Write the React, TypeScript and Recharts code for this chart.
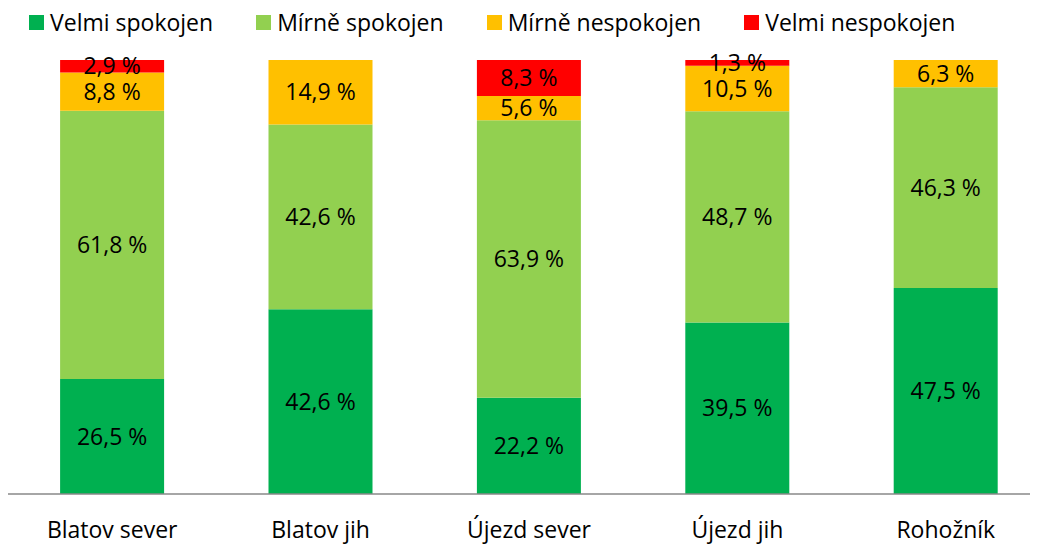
import { BarChart, Bar, XAxis, YAxis, Legend, LabelList } from "recharts"

const categories = ["Blatov sever", "Blatov jih", "Újezd sever", "Újezd jih", "Rohožník"]
const velmiSpokojen = [26.5, 42.6, 22.2, 39.5, 47.5]
const mirneSpokojen = [61.8, 42.6, 63.9, 48.7, 46.3]
const mirneNespokojen = [8.8, 14.9, 5.6, 10.5, 6.3]
const velmiNespokojen = [2.9, 0, 8.3, 1.3, 0]

const series = [
  { key: "vs", name: "Velmi spokojen", color: "#00B050", values: velmiSpokojen },
  { key: "ms", name: "Mírně spokojen", color: "#92D050", values: mirneSpokojen },
  { key: "mn", name: "Mírně nespokojen", color: "#FFC000", values: mirneNespokojen },
  { key: "vn", name: "Velmi nespokojen", color: "#FF0000", values: velmiNespokojen },
]

const data = categories.map((name, i) => {
  const row = { name }
  series.forEach(s => {
    row[s.key] = s.values[i]
  })
  return row
})

const FONT = "'Open Sans', sans-serif"

const fmt = v => (v ? `${v.toFixed(1).replace(".", ",")} %` : "")

const renderLegend = () => (
  <div style={{ display: "flex", alignItems: "center", height: 40, fontFamily: FONT, fontSize: 23, lineHeight: "32px", color: "#000", whiteSpace: "nowrap" }}>
    {series.map(s => (
      <div key={s.key} style={{ display: "flex", alignItems: "center", marginRight: 43 }}>
        <span style={{ display: "inline-block", width: 15, height: 15, background: s.color, marginRight: 6 }} />
        <span>{s.name}</span>
      </div>
    ))}
  </div>
)

const App = () => {

  return (

    <div style={{ width: 1030, height: 537 }}>

      <BarChart
        width={1030}
        height={537}
        data={data}
        stackOffset="expand"
        barCategoryGap="25%"
        margin={{ top: 52, right: -12, bottom: 21, left: 0 }}
      >

        <XAxis
          dataKey="name"
          height={30}
          tickLine={false}
          tickSize={0}
          tickMargin={28}
          axisLine={{ stroke: "#898989", strokeWidth: 1.5 }}
          tick={{ fontFamily: FONT, fontSize: 23, fill: "#000" }}
        />

        <YAxis hide domain={[0, 1]} />

        <Legend
          layout="horizontal"
          verticalAlign="middle"
          align="center"
          content={renderLegend}
          wrapperStyle={{ top: -6, left: 21, width: 960, height: 40 }}
        />

        {series.map(s => (
          <Bar key={s.key} dataKey={s.key} name={s.name} stackId="a" fill={s.color} isAnimationActive={false}>
            <LabelList
              dataKey={s.key}
              position="center"
              formatter={fmt}
              style={{ fontFamily: FONT, fontSize: 23, fill: "#000" }}
            />
          </Bar>
        ))}

      </BarChart>

    </div>

  )

}

export default App
